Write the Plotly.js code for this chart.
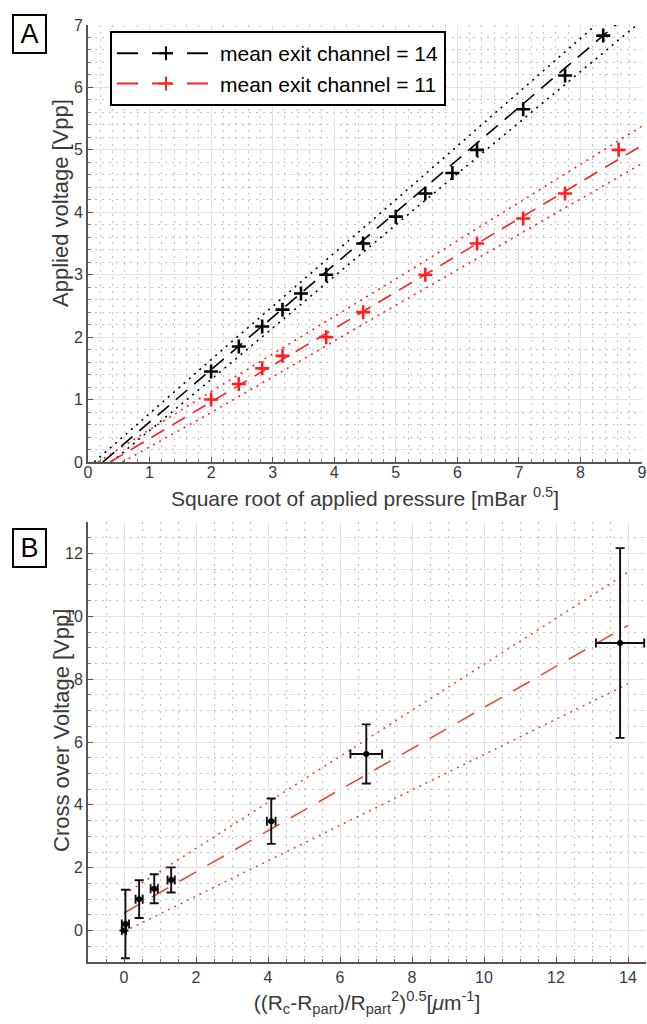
<!DOCTYPE html>
<html>
<head>
<meta charset="utf-8">
<script src="https://cdn.plot.ly/plotly-3.0.1.min.js"></script>
<style>html,body{margin:0;padding:0;background:#fff}#chart{width:647px;height:1024px}</style>
</head>
<body>
<div id="chart"></div>
<script>
// ---------- Panel A data ----------
const a14X = [2.00, 2.45, 2.83, 3.16, 3.46, 3.87, 4.47, 5.00, 5.48, 5.92, 6.32, 7.07, 7.75, 8.37];
const a14Y = [1.45, 1.85, 2.17, 2.44, 2.70, 3.00, 3.50, 3.93, 4.30, 4.63, 5.00, 5.65, 6.19, 6.83];
const a11X = [2.00, 2.45, 2.83, 3.16, 3.87, 4.47, 5.48, 6.32, 7.07, 7.75, 8.62];
const a11Y = [1.00, 1.25, 1.50, 1.70, 2.00, 2.40, 3.00, 3.50, 3.90, 4.30, 5.00];
// fitted lines and prediction bounds
const fit14X = [0.24, 9.00];         const fit14Y = [0.00, 7.36];
const fit14UpX = [0.10, 2, 5, 8.25]; const fit14UpY = [0.00, 1.64, 4.20, 7.00];
const fit14LoX = [0.38, 2, 5, 9.00]; const fit14LoY = [0.00, 1.32, 3.80, 7.07];
const fit11X = [0.36, 9.00];         const fit11Y = [0.00, 5.07];
const fit11UpX = [0.16, 2, 5, 9];    const fit11UpY = [0.00, 1.13, 2.93, 5.38];
const fit11LoX = [0.56, 2, 5, 9];    const fit11LoY = [0.00, 0.79, 2.51, 4.78];
const legendNames = ['mean exit channel = 14', 'mean exit channel = 11'];

// ---------- Panel B data ----------
const bX    = [0.00, 0.04, 0.42, 0.84, 1.31, 4.09, 6.73, 13.78];
const bY    = [0.00, 0.21, 1.00, 1.33, 1.61, 3.48, 5.62, 9.15];
const bYerr = [0.00, 1.09, 0.60, 0.46, 0.40, 0.72, 0.94, 3.02];
const bXerr = [0.06, 0.10, 0.10, 0.10, 0.10, 0.12, 0.44, 0.67];
const fitBX = [0, 14];   const fitBY   = [0.56, 9.71];
const fitBUpY = [1.15, 11.40];
const fitBLoY = [-0.03, 7.85];

// ---------- styling ----------
const FONT = 'Liberation Sans, Arial, Helvetica, sans-serif';
const BLACK = '#000000', REDA = '#ff1f1f', REDB = '#e4502d', TXT = '#3a3a3a';
const W = 647, H = 1024;
const M = {l: 88, r: 1, t: 25, b: 62};
const PW = W - M.l - M.r, PH = H - M.t - M.b;
const px = x => (x - M.l) / PW;
const py = y => (H - M.b - y) / PH;
const DASH = '15px,9px', DOT = '2px,5px';

function axisBase(extra) {
  return Object.assign({
    showline: true, linecolor: '#555', linewidth: 2, mirror: false,
    ticks: 'inside', ticklen: 5, tickcolor: '#555', tickwidth: 1,
    showgrid: true, gridcolor: '#e4e4e4', gridwidth: 1,
    zeroline: false, tickfont: {family: FONT, size: 16, color: TXT},
    fixedrange: true
  }, extra);
}
function minor(dt) {
  return {dtick: dt, showgrid: true, gridcolor: '#c4c4c4', griddash: '2px,5px', gridwidth: 1,
          ticks: 'inside', ticklen: 3, tickcolor: '#777'};
}

const traces = [];
// Panel A bounds & fits
[[fit14UpX, fit14UpY, BLACK, DOT], [fit14LoX, fit14LoY, BLACK, DOT], [fit14X, fit14Y, BLACK, DASH],
 [fit11UpX, fit11UpY, REDA, DOT], [fit11LoX, fit11LoY, REDA, DOT], [fit11X, fit11Y, REDA, DASH]
].forEach(([x, y, c, d]) => traces.push({
  type: 'scatter', mode: 'lines', x: x, y: y, xaxis: 'x', yaxis: 'y',
  line: {color: c, width: 1.6, dash: d}, showlegend: false, hoverinfo: 'skip'
}));
// Panel A data markers
traces.push({type: 'scatter', mode: 'markers', x: a14X, y: a14Y, xaxis: 'x', yaxis: 'y', showlegend: false,
  marker: {symbol: 'cross-thin', size: 10, line: {color: BLACK, width: 2.6}}});
traces.push({type: 'scatter', mode: 'markers', x: a11X, y: a11Y, xaxis: 'x', yaxis: 'y', showlegend: false,
  marker: {symbol: 'cross-thin', size: 10, line: {color: REDA, width: 2.6}}});
// legend entries
[[legendNames[0], BLACK], [legendNames[1], REDA]].forEach(([n, c]) => traces.push({
  type: 'scatter', mode: 'lines+markers', x: [null], y: [null], xaxis: 'x', yaxis: 'y', name: n,
  line: {color: c, width: 2, dash: '21px,14px'},
  marker: {symbol: 'cross-thin', size: 10, line: {color: c, width: 2}}
}));
// Panel B fits
[[fitBX, fitBUpY, DOT], [fitBX, fitBLoY, DOT], [fitBX, fitBY, '19px,13px']].forEach(([x, y, d]) => traces.push({
  type: 'scatter', mode: 'lines', x: x, y: y, xaxis: 'x2', yaxis: 'y2',
  line: {color: REDB, width: 1.6, dash: d}, showlegend: false, hoverinfo: 'skip'
}));
// Panel B data with error bars
traces.push({type: 'scatter', mode: 'markers', x: bX, y: bY, xaxis: 'x2', yaxis: 'y2', showlegend: false,
  marker: {symbol: 'circle', size: 6, color: BLACK},
  error_y: {type: 'data', array: bYerr, visible: true, color: '#111', thickness: 1.9, width: 4.5},
  error_x: {type: 'data', array: bXerr, visible: true, color: '#111', thickness: 1.9, width: 4.5}
});

const layout = {
  width: W, height: H, margin: M, paper_bgcolor: '#fff', plot_bgcolor: '#fff',
  font: {family: FONT, color: TXT},
  xaxis: axisBase({domain: [0, px(642)], range: [0, 9], dtick: 1, anchor: 'y', minor: minor(0.2),
    ticklabelstandoff: -5}),
  yaxis: axisBase({domain: [py(462), 1], range: [0, 7], dtick: 1, anchor: 'x', minor: minor(0.2)}),
  xaxis2: axisBase({domain: [0, 1], range: [-1, 14.5], dtick: 2, tick0: 0, anchor: 'y2', minor: minor(0.5),
    title: {text: '((R<sub>c</sub>-R<sub>part</sub>)/R<sub>part</sub><sup>2</sup>)<sup>0.5</sup>[<i>μ</i>m<sup>-1</sup>]',
            standoff: 10, font: {family: FONT, size: 21, color: TXT}}}),
  yaxis2: axisBase({domain: [0, py(522)], range: [-1, 13], dtick: 2, tick0: 0, anchor: 'x2', minor: minor(0.5)}),
  showlegend: true,
  legend: {x: px(110), y: py(31), xanchor: 'left', yanchor: 'top', bgcolor: '#fff',
    bordercolor: '#000', borderwidth: 2, itemwidth: 98, tracegroupgap: 0,
    font: {family: FONT, size: 21, color: '#000'}},
  annotations: [
    {text: 'Square root of applied pressure [mBar <sup>0.5</sup>]', xref: 'paper', yref: 'paper',
     x: px(365), y: py(497), xanchor: 'center', yanchor: 'middle', showarrow: false,
     font: {family: FONT, size: 21, color: TXT}},
    {text: 'Applied voltage [Vpp]', xref: 'paper', yref: 'paper', x: px(61), y: py(203),
     xanchor: 'center', yanchor: 'middle', textangle: -90, showarrow: false,
     font: {family: FONT, size: 22, color: TXT}},
    {text: 'Cross over Voltage [Vpp]', xref: 'paper', yref: 'paper', x: px(61), y: py(731),
     xanchor: 'center', yanchor: 'middle', textangle: -90, showarrow: false,
     font: {family: FONT, size: 22, color: TXT}},
    {text: 'A', xref: 'paper', yref: 'paper', x: px(12), y: py(14), xanchor: 'left', yanchor: 'top',
     showarrow: false, font: {family: FONT, size: 27, color: '#000'}, bordercolor: '#000', borderwidth: 2,
     borderpad: 0, width: 31, height: 36, bgcolor: '#fff'},
    {text: 'B', xref: 'paper', yref: 'paper', x: px(12), y: py(528), xanchor: 'left', yanchor: 'top',
     showarrow: false, font: {family: FONT, size: 27, color: '#000'}, bordercolor: '#000', borderwidth: 2,
     borderpad: 0, width: 31, height: 36, bgcolor: '#fff'}
  ]
};
Plotly.newPlot('chart', traces, layout, {displayModeBar: false, staticPlot: true});
</script>
</body>
</html>
